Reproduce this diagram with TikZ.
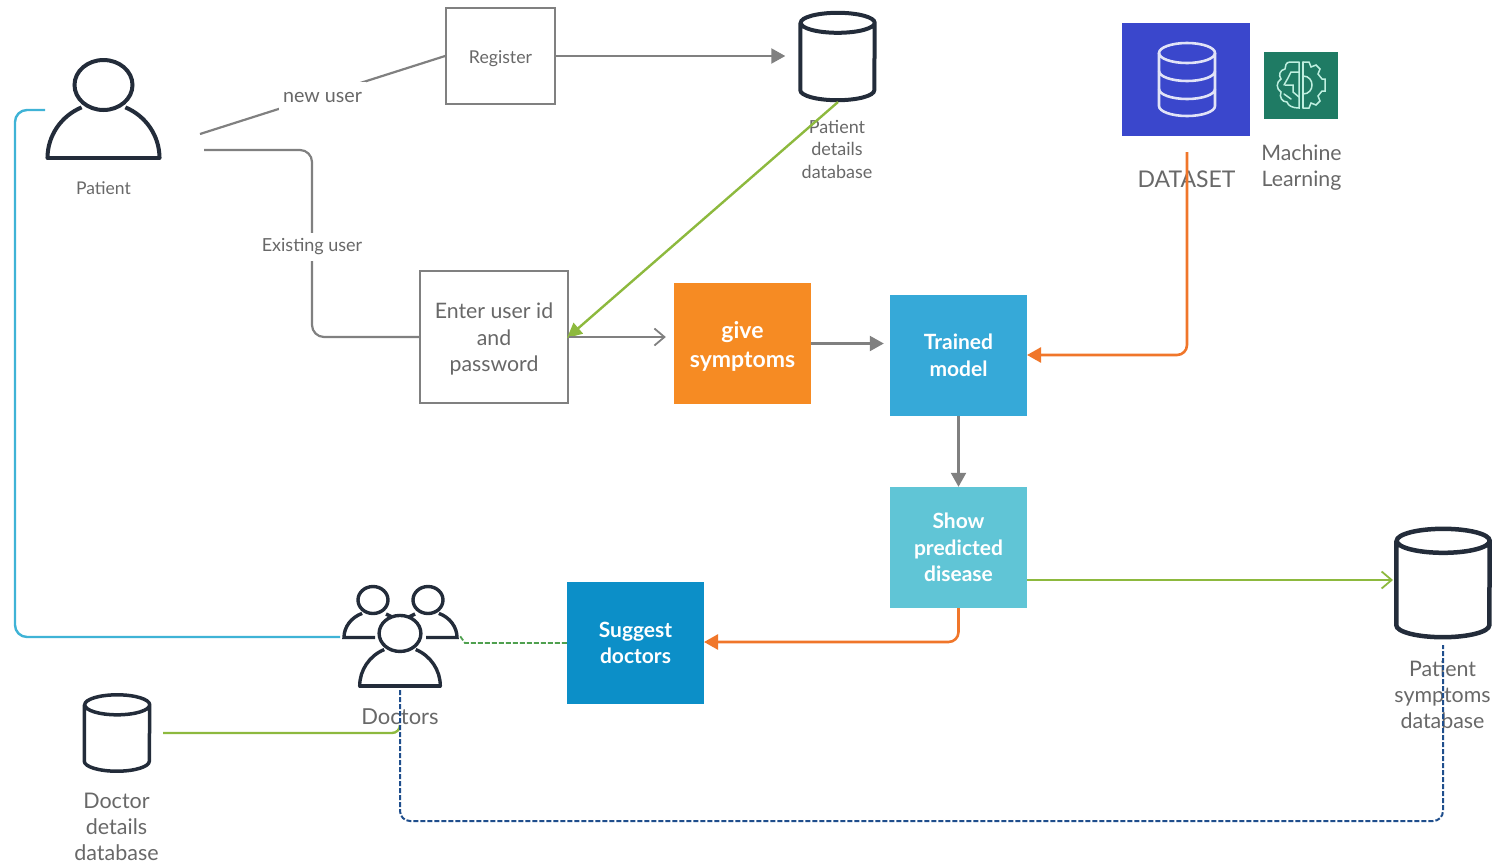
\documentclass[tikz,border=0pt]{standalone}
\usepackage{fontspec}
\setmainfont{Lato}
\usetikzlibrary{arrows.meta,calc}
\definecolor{linegray}{HTML}{808080}
\definecolor{textgray}{HTML}{686868}
\definecolor{icondark}{HTML}{232C3A}
\definecolor{givefill}{HTML}{F68B23}
\definecolor{trainfill}{HTML}{36A9D8}
\definecolor{showfill}{HTML}{60C5D6}
\definecolor{suggestfill}{HTML}{0C8FC8}
\definecolor{datafill}{HTML}{3A47CC}
\definecolor{mlfill}{HTML}{1F7B64}
\definecolor{mlline}{HTML}{BFEFE0}
\definecolor{greenline}{HTML}{8DB93E}
\definecolor{orangeline}{HTML}{F0762A}
\definecolor{cyanline}{HTML}{3FB3D6}
\definecolor{navyline}{HTML}{1F4E8C}
\definecolor{dashgreen}{HTML}{4FA04F}
\newcommand*{\drawdb}[4]{
  \draw[iconline,line width=#4] ($(#1.north west)+(0,-#3)$) -- ($(#1.south west)+(0,#3)$)
    arc[start angle=180,end angle=360,x radius=#2,y radius=#3]
    -- ($(#1.north east)+(0,-#3)$)
    arc[start angle=0,end angle=180,x radius=#2,y radius=#3]
    arc[start angle=180,end angle=360,x radius=#2,y radius=#3];
}
\tikzset{
  whitebox/.style={draw=linegray,line width=1.8pt,fill=white,text=textgray,align=center,inner sep=0pt},
  colorbox/.style={fill=#1,text=white,align=center,inner sep=0pt,minimum width=137pt,minimum height=121pt,
    font=\fontsize{21}{26.5}\selectfont\bfseries},
  textlabel/.style={text=textgray,align=center,inner sep=1pt},
  dbnode/.style={inner sep=0pt},
  iconline/.style={draw=icondark,line width=4pt},
  graytip/.style={-{Triangle[length=14pt,width=15pt]}},
  opentip/.style={-{Straight Barb[length=10pt,width=17pt,line width=1.8pt]}},
  personicon/.pic={
    \draw[iconline] (0,73) ellipse [x radius=29,y radius=25];
    \draw[iconline,line cap=round] (-56,0) -- (56,0);
    \draw[iconline] (-56,0) arc[start angle=180,end angle=113,x radius=56,y radius=55];
    \draw[iconline] (56,0) arc[start angle=0,end angle=67,x radius=56,y radius=55];
  }
}
\begin{document}
\begin{tikzpicture}[x=1pt,y=1pt,>=stealth]
\useasboundingbox (0,0) rectangle (1496,-865);
% icons
\pic at (103.5,-158) {personicon};
\pic[scale=0.72,iconline/.append style={line width=3.4pt}] at (400,-686) {personicon};
\draw[iconline,line width=3.4pt] (373,-600) ellipse [x radius=15,y radius=13.5];
\draw[iconline,line width=3.4pt] (428,-600) ellipse [x radius=15,y radius=13.5];
\draw[iconline,line width=3.4pt] (375,-637.5) -- (344,-637.5) arc[start angle=180,end angle=112,x radius=29,y radius=26];
\draw[iconline,line width=3.4pt] (426,-637.5) -- (457,-637.5) arc[start angle=0,end angle=68,x radius=29,y radius=26];
\draw[iconline,line width=3.4pt] (386,-614) -- (392,-617);
\draw[iconline,line width=3.4pt] (415,-614) -- (409,-617);
\node[textlabel,font=\fontsize{17.5}{21}\selectfont] (patientlabel) at (103.5,-188) {Patient};
\node[textlabel,font=\fontsize{22}{26}\selectfont] (doctorslabel) at (400,-716.5) {Doctors};
% boxes
\node[whitebox,minimum width=109pt,minimum height=96pt] (regbox) at (500.5,-56) {};
\node[textlabel,font=\fontsize{17.7}{21}\selectfont] (reglabel) at (500.5,-59) {Register};
\node[whitebox,minimum width=148pt,minimum height=132pt] (enterbox) at (494,-337) {};
\node[textlabel,font=\fontsize{21.3}{26.5}\selectfont] (enterlabel) at (494,-339) {Enter user id\\and\\password};
\node[colorbox=givefill] (givebox) at (742.5,-343.5) {};
\node[text=white,align=center,inner sep=0pt,font=\fontsize{23}{29}\selectfont\bfseries] (givelabel) at (742.5,-346) {give\\symptoms};
\node[colorbox=trainfill] (trainbox) at (958.5,-355.5) {Trained\\model};
\node[colorbox=showfill] (showbox) at (958.5,-547.5) {Show\\predicted\\disease};
\node[colorbox=suggestfill,minimum height=122pt] (suggestbox) at (635.5,-643) {Suggest\\doctors};
% databases
\node[dbnode,minimum width=74pt,minimum height=87pt] (patientdb) at (837.5,-56.5) {};
\node[dbnode,minimum width=93pt,minimum height=108pt] (symptomdb) at (1443,-583) {};
\node[dbnode,minimum width=65pt,minimum height=76pt] (doctordb) at (117,-733) {};
\drawdb{patientdb}{37}{10}{4pt}
\drawdb{symptomdb}{46.5}{12}{4.5pt}
\drawdb{doctordb}{32.5}{10}{3.5pt}
\node[textlabel,font=\fontsize{18}{22.5}\selectfont] (patientdblabel) at (837,-149) {Patient\\details\\database};
\node[textlabel,font=\fontsize{21.4}{26}\selectfont] (symptomdblabel) at (1442.5,-695) {Patient\\symptoms\\database};
\node[textlabel,font=\fontsize{21.5}{26}\selectfont] (doctordblabel) at (116.5,-827) {Doctor\\details\\database};
% dataset and machine learning
\node[fill=datafill,minimum width=128pt,minimum height=113pt,inner sep=0pt] (databox) at (1186,-79.5) {};
\node[fill=mlfill,minimum width=74pt,minimum height=67pt,inner sep=0pt] (mlbox) at (1301,-85.5) {};
\begin{scope}[draw=white!85!datafill,line width=2.6pt]
\draw (1187,-53) ellipse (28 and 10);
\draw (1159,-53) -- (1159,-106) arc[start angle=180,end angle=360,x radius=28,y radius=10] -- (1215,-53);
\draw (1159,-71) arc[start angle=180,end angle=360,x radius=28,y radius=10];
\draw (1159,-89) arc[start angle=180,end angle=360,x radius=28,y radius=10];
\end{scope}
\begin{scope}[draw=mlline,line width=1.5pt,line cap=round]
% gear half
\draw (1303,-62) -- (1309,-62) -- (1311,-67) -- (1316,-65) -- (1320,-69) -- (1318,-74) -- (1322,-79) -- (1325,-79)
  -- (1325,-91) -- (1322,-91) -- (1318,-96) -- (1320,-101) -- (1316,-105) -- (1311,-103) -- (1309,-108) -- (1303,-108);
\draw (1303,-76) .. controls (1315,-76) and (1315,-94) .. (1303,-94);
\draw (1303,-62) -- (1303,-108);
% brain half
\draw (1299,-62) -- (1290,-62) .. controls (1286,-62) and (1285,-66) .. (1285,-69)
  .. controls (1280,-70) and (1278,-75) .. (1281,-79)
  .. controls (1276,-82) and (1276,-89) .. (1281,-92)
  .. controls (1279,-97) and (1282,-102) .. (1287,-102)
  .. controls (1288,-106) and (1293,-108) .. (1299,-108) -- (1299,-62);
\draw (1299,-72) -- (1291,-72) -- (1288,-78) -- (1284,-85);
\draw (1285,-85) -- (1293,-85) -- (1293,-92) -- (1299,-97);
\draw (1284,-94) -- (1291,-99);
\end{scope}
\node[textlabel,font=\fontsize{23}{28}\selectfont] (datalabel) at (1186.5,-179) {DATASET};
\node[textlabel,font=\fontsize{21.3}{26}\selectfont] (mllabel) at (1301.5,-168) {Machine\\Learning};
% connectors
\coordinate (ptnew) at (200,-134);
\coordinate (ptold) at (204,-150);
\coordinate (existpos) at (312,-245);
\coordinate (pdbout) at (838,-102);
\coordinate (enterin) at (567,-338);
\coordinate (dataout) at (1187,-152);
\coordinate (trainin) at (1027,-355);
\coordinate (showout) at (958.5,-608);
\coordinate (sdbin) at (1393,-580);
\coordinate (showright) at (1027,-580);
\coordinate (suggestin) at (704,-642);
\coordinate (ptback) at (45,-110);
\coordinate (leftside) at (15,-637);
\coordinate (docleft) at (340,-637);
\coordinate (docright) at (460,-636);
\coordinate (docbottom) at (400,-690);
\coordinate (docturn) at (400,-725);
\coordinate (sdbbottom) at (1443,-645);
\coordinate (navycorner) at (400,-821);
\coordinate (ddbout) at (163,-733);
\draw[greenline,line width=2.4pt,-{Triangle[length=15pt,width=14pt]}] (pdbout) -- (enterin);
\begin{scope}[draw=linegray,line width=2.2pt]
\draw (ptnew) -- (regbox.west) node[midway,yshift=-2pt,fill=white,text=textgray,inner xsep=4pt,inner ysep=0pt,minimum height=30pt,font=\fontsize{19.7}{22}\selectfont] (newuserlabel) {new user};
\draw[rounded corners=12pt] (ptold) -| (existpos) |- (enterbox.west);
\node[fill=white,text=textgray,inner ysep=6pt,inner xsep=1pt,yshift=-2pt,font=\fontsize{18}{21}\selectfont] (existlabel) at (existpos) {Existing user};
\draw[graytip,shorten >=15pt] (regbox.east) -- (patientdb.west|-regbox.east);
\draw[opentip,shorten >=8pt] (enterbox.east) -- (givebox.west|-enterbox.east);
\draw[graytip,shorten >=6pt] (givebox.east) -- (trainbox.west|-givebox.east);
\draw[graytip] (trainbox.south) -- (showbox.north);
\end{scope}
\draw[orangeline,line width=2.6pt,rounded corners=10pt,-{Triangle[length=14pt,width=15pt]}] (dataout) |- (trainin);
\draw[orangeline,line width=2.6pt,rounded corners=10pt,-{Triangle[length=14pt,width=15pt]}] (showout) |- (suggestin);
\draw[greenline,line width=2.4pt,-{Straight Barb[length=10pt,width=17pt,line width=1.8pt]}] (showright) -- (sdbin);
\draw[dashgreen,line width=1.8pt,dash pattern=on 5pt off 2pt] (suggestbox.west|-docright) ++(0,-7) -- (465,-643) -- (docright);
\draw[cyanline,line width=2.4pt,rounded corners=12pt] (ptback) -| (leftside) -- (docleft);
\draw[greenline,line width=2.4pt,rounded corners=8pt] (ddbout) -| (docturn);
\draw[navyline,line width=2pt,dash pattern=on 5pt off 2pt,rounded corners=10pt] (docbottom) |- (sdbbottom|-navycorner) -- (sdbbottom);
\end{tikzpicture}
\end{document}
